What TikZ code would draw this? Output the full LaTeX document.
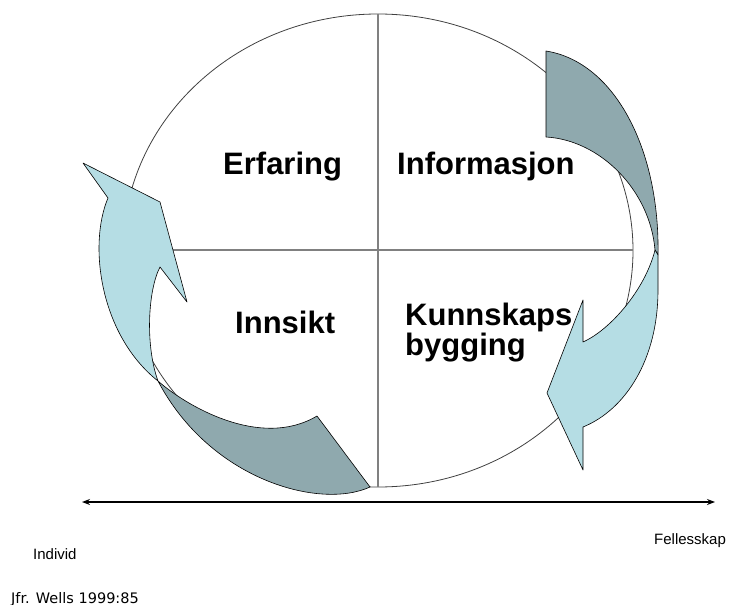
\documentclass[tikz,border=0pt]{standalone}
\usepackage{fontspec}
\setmainfont{Liberation Sans}
\newfontfamily\jfrfont{DejaVu Sans}
\usetikzlibrary{arrows.meta}
\definecolor{banddark}{RGB}{143,169,174}
\definecolor{bandlight}{RGB}{181,221,228}
\tikzset{
  quadlabel/.style={anchor=base west,inner sep=0pt,font=\fontsize{31}{36}\selectfont\bfseries},
  smalllabel/.style={anchor=base west,inner sep=0pt,font=\fontsize{15}{18}\selectfont},
  crossline/.style={draw=black!50,line width=1.1pt},
  darkband/.style={fill=banddark,draw=black,line width=0.6pt,line join=round},
  lightband/.style={fill=bandlight,draw=black,line width=0.6pt,line join=round}
}
\begin{document}
\begin{tikzpicture}[x=1pt,y=-1pt]
      \useasboundingbox (0,0) rectangle (729,605);
      % circle and quadrants
      \draw[black!75,line width=0.8pt] (378,250.5) ellipse [x radius=255pt,y radius=236.5pt];
      \coordinate (ctop) at (378,14);
      \coordinate (cbottom) at (378,487);
      \coordinate (cleft) at (123,250);
      \coordinate (cright) at (633,250);
      \draw[crossline] (ctop) -- (cbottom);
      \draw[crossline] (cleft) -- (cright);
      % right arrow
      \draw[darkband] (546,137) -- (546,51)
        .. controls (615,62) and (660,150) .. (658,255) -- (655,250)
        .. controls (650,190) and (600,140) .. (546,137) -- cycle;
      \draw[lightband] (655,250)
        .. controls (645,290) and (610,330) .. (583,342)
        -- (583,300) -- (547,393) -- (583,470) -- (583,427)
        .. controls (625,410) and (658,360) .. (658,290) -- (658,255) -- cycle;
      % left arrow
      \draw[lightband] (108,198) -- (83,163) -- (160,202) -- (187,302) -- (160,267)
        .. controls (148,290) and (145,345) .. (158,381)
        .. controls (100,335) and (88,245) .. (108,198) -- cycle;
      \draw[darkband] (158,381)
        .. controls (185,405) and (260,450) .. (317,416) -- (370,487)
        .. controls (320,510) and (210,480) .. (158,381) -- cycle;
      % texts
      \node[quadlabel] (erfaring) at (223,174) {Erfaring};
      \node[quadlabel] (informasjon) at (397,174) {Informasjon};
      \node[quadlabel] (innsikt) at (235,333) {Innsikt};
      \node[quadlabel] (kunnskaps) at (405,325) {Kunnskaps};
      \node[quadlabel] (bygging) at (405,355) {bygging};
      % axis
      \coordinate (individend) at (82,502);
      \coordinate (fellesend) at (715,502);
      \draw[line width=1.3pt,{Stealth[length=8pt,width=6pt]}-{Stealth[length=8pt,width=6pt]}] (individend) -- (fellesend);
      \node[smalllabel] (individ) at (33,559) {Individ};
      \node[smalllabel] (fellesskap) at (654,544) {Fellesskap};
      \node[anchor=base west,inner sep=0pt,font=\jfrfont\fontsize{14.5}{17}\selectfont] (jfr) at (11,603) {Jfr. Wells 1999:85};
\end{tikzpicture}
\end{document}
